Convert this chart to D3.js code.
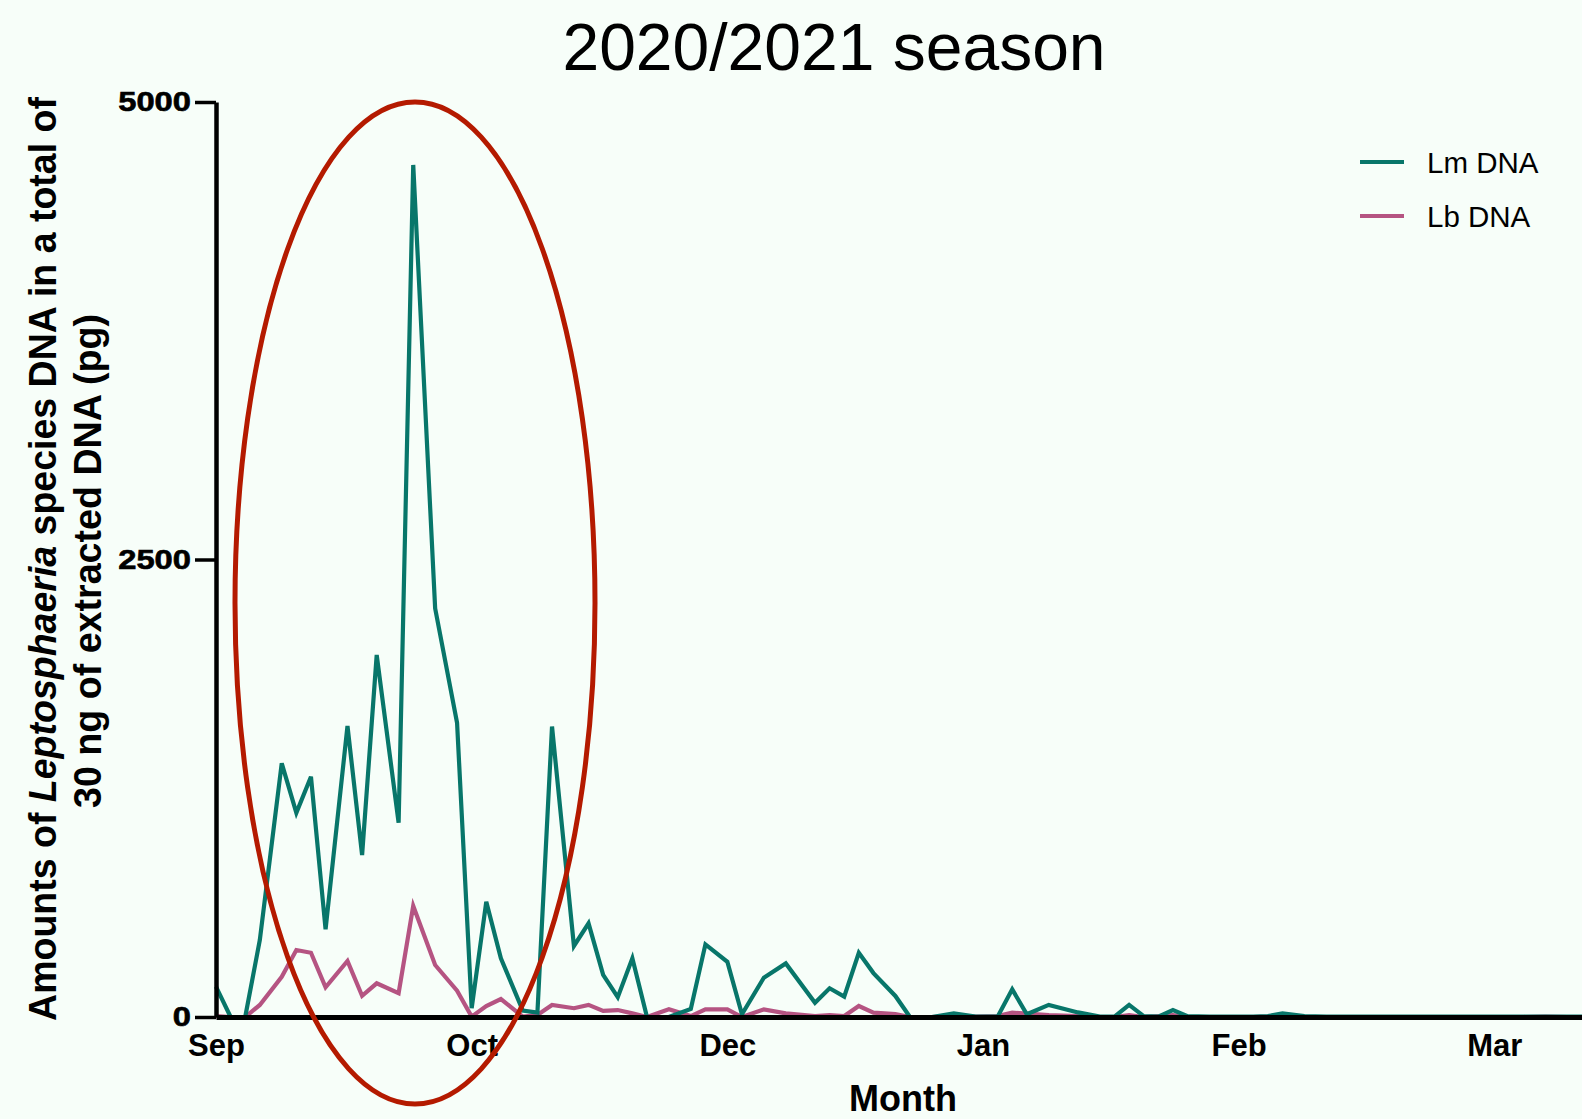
<!DOCTYPE html>
<html>
<head>
<meta charset="utf-8">
<script src="https://cdn.jsdelivr.net/npm/d3@7"></script>
<style>
  html, body { margin: 0; padding: 0; background: #f7fef9; }
  svg { display: block; }
  text { font-family: "Liberation Sans", Arial, Helvetica, sans-serif; }
</style>
</head>
<body>
<svg id="chart" width="1582" height="1119"></svg>
<script>
// Sampling day (days since the start of September)
const days = [0,2,4,6,9,11,13,15,18,20,22,25,27,30,33,35,37,39,42,44,46,49,51,53,55,57,59,62,65,67,70,72,75,78,82,84,86,88,90,93,95,98,101,104,107,109,111,114,118,121,123,125,127,129,131,133,136,139,142,144,146,149,152,155,158,161,164,167,170,173,176,179,182,185,187];

// Leptosphaeria maculans DNA (pg)
const lmDNA = [166,0,0,421,1386,1116,1313,479,1590,885,1978,1062,4656,2233,1608,48,630,321,35,24,1587,388,512,230,108,321,0,0,44,397,302,15,215,293,78,157,111,351,240,115,0,0,20,2,2,151,15,66,25,2,2,66,5,2,38,5,2,2,2,5,20,5,2,2,2,2,2,2,2,2,2,2,2,2,2];

// Leptosphaeria biglobosa DNA (pg)
const lbDNA = [5,0,0,66,220,366,351,162,306,116,184,130,607,284,144,2,60,98,2,11,66,48,66,33,38,20,0,42,5,42,42,0,42,20,5,11,5,60,24,16,0,0,5,2,5,24,18,10,5,0,0,10,0,5,10,0,0,0,0,2,8,0,0,0,0,0,0,0,0,0,0,0,2,0,0];

// Month ticks on the day axis
const monthTickDays = [0,35,70,105,140,175];
const monthLabels = ["Sep","Oct","Dec","Jan","Feb","Mar"];

const yTicks = [0,2500,5000];

const seriesNames = ["Lm DNA","Lb DNA"];
const seriesColors = ["#08766a","#b55482"];

const svg = d3.select("#chart");

const x = d3.scaleLinear().domain([0, 187]).range([216, 1582]);
const y = d3.scaleLinear().domain([0, 5000]).range([1017, 102]);

// Title
svg.append("text")
  .attr("x", 834).attr("y", 70)
  .attr("text-anchor", "middle")
  .attr("font-size", 66)
  .attr("fill", "#000")
  .text("2020/2021 season");

// Data lines (Lb first so Lm sits on top)
const line = d3.line()
  .x((d, i) => x(days[i]))
  .y(d => y(d));

[[lbDNA, 1], [lmDNA, 0]].forEach(([vals, k]) => {
  svg.append("path")
    .datum(vals)
    .attr("fill", "none")
    .attr("stroke", seriesColors[k])
    .attr("stroke-width", 4.2)
    .attr("stroke-linejoin", "miter")
    .attr("d", line);
});

// X axis
const xAxis = svg.append("g")
  .attr("transform", "translate(0,1017)")
  .call(d3.axisBottom(x)
    .tickValues(monthTickDays)
    .tickFormat((d, i) => monthLabels[i])
    .tickSize(0)
    .tickSizeOuter(0));
xAxis.select(".domain").attr("stroke", "#000").attr("stroke-width", 5);
xAxis.selectAll("text")
  .attr("y", 17)
  .attr("dy", "0.71em")
  .attr("font-size", 31)
  .attr("font-weight", "bold")
  .attr("font-family", "Liberation Sans, Arial, sans-serif")
  .attr("fill", "#000");

// Y axis
const yAxis = svg.append("g")
  .attr("transform", "translate(216,0)")
  .call(d3.axisLeft(y)
    .tickValues(yTicks)
    .tickFormat(d3.format("d"))
    .tickSize(21)
    .tickSizeOuter(0)
    .tickPadding(4));
yAxis.select(".domain").attr("stroke", "#000").attr("stroke-width", 4.5);
yAxis.selectAll(".tick line").attr("stroke", "#000").attr("stroke-width", 3.5);
yAxis.selectAll("text")
  .attr("font-size", 27)
  .attr("font-weight", "bold")
  .attr("font-family", "Liberation Sans, Arial, sans-serif")
  .attr("fill", "#000")
  .attr("stroke", "#000")
  .attr("stroke-width", 0.6)
  .attr("textLength", d => String(d).length * 18.2)
  .attr("lengthAdjust", "spacingAndGlyphs");

// X axis title
svg.append("text")
  .attr("x", 903).attr("y", 1111)
  .attr("text-anchor", "middle")
  .attr("font-size", 36)
  .attr("font-weight", "bold")
  .text("Month");

// Y axis title (two lines, condensed along the text direction)
function yTitleLine(baselineX, centerY, targetLen, build) {
  const g = svg.append("g")
    .attr("transform", `translate(${baselineX},${centerY}) rotate(-90)`);
  const t = g.append("text")
    .attr("text-anchor", "middle")
    .attr("font-size", 38)
    .attr("font-weight", "bold")
    .attr("fill", "#000");
  build(t);
  const natural = t.node().getComputedTextLength();
  t.attr("transform", `scale(${targetLen / natural},1)`);
}
yTitleLine(56, 559, 924, t => {
  t.append("tspan").text("Amounts of ");
  t.append("tspan").attr("font-style", "italic").text("Leptosphaeria");
  t.append("tspan").text(" species DNA in a total of");
});
yTitleLine(101, 561, 494, t => {
  t.append("tspan").text("30 ng of extracted DNA (pg)");
});

// Legend
seriesNames.forEach((name, k) => {
  const ly = 162 + k * 54;
  svg.append("line")
    .attr("x1", 1360).attr("x2", 1404)
    .attr("y1", ly).attr("y2", ly)
    .attr("stroke", seriesColors[k])
    .attr("stroke-width", 4);
  svg.append("text")
    .attr("x", 1427).attr("y", ly)
    .attr("dy", "0.36em")
    .attr("font-size", 29.5)
    .attr("fill", "#000")
    .text(name);
});

// Highlight ellipse around the autumn peak
svg.append("ellipse")
  .attr("cx", 415).attr("cy", 603)
  .attr("rx", 180).attr("ry", 501)
  .attr("fill", "none")
  .attr("stroke", "#b41a00")
  .attr("stroke-width", 5);
</script>
</body>
</html>
